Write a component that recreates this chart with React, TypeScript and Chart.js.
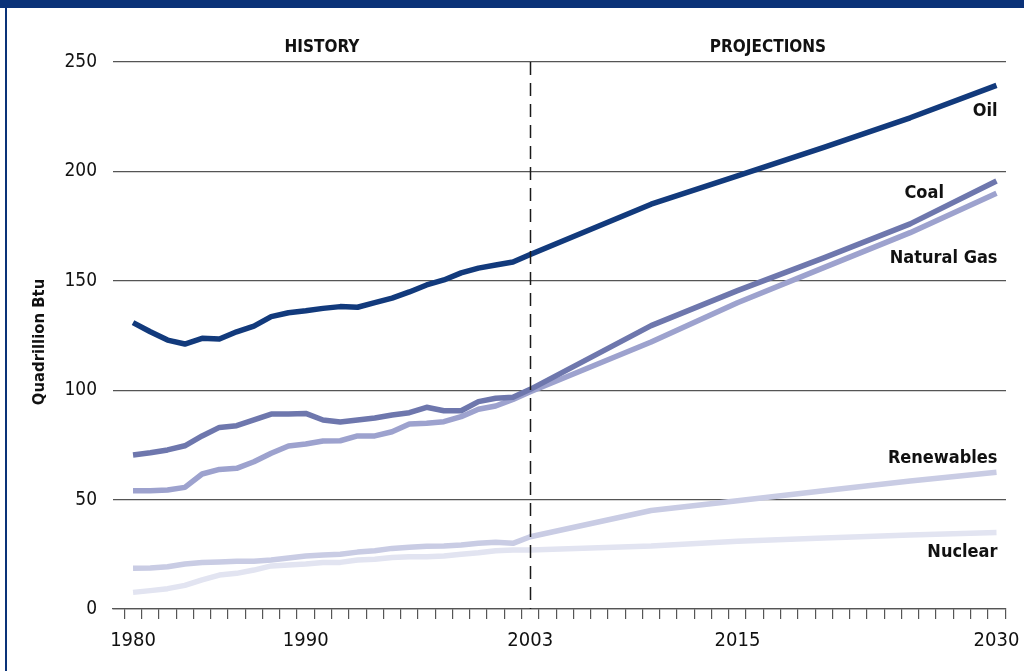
import React, { useEffect, useRef } from "react";
import { Chart, registerables } from "chart.js";

Chart.register(...registerables);

const histYears = [1980,1981,1982,1983,1984,1985,1986,1987,1988,1989,1990,1991,1992,1993,1994,1995,1996,1997,1998,1999,2000,2001,2002,2003];
const projYears = [2010, 2015, 2020, 2025, 2030];

const oilHist = [130.9,126.7,122.9,121.1,123.7,123.4,126.7,129.3,133.6,135.4,136.3,137.4,138.2,137.9,140.0,142.1,144.9,148.1,150.4,153.6,155.8,157.2,158.6,162.0];
const oilProj = [185, 198, 211, 224.5, 239.3];
const coalHist = [70.4,71.4,72.7,74.6,79.1,83.0,83.8,86.4,89.1,89.1,89.4,86.4,85.5,86.4,87.3,88.7,89.7,92.2,90.6,90.6,94.8,96.3,96.8,100.4];
const coalProj = [129.5, 145.5, 160.5, 176, 195.6];
const gasHist = [54.1,54.1,54.4,55.6,61.7,63.8,64.3,67.3,71.2,74.5,75.4,76.8,76.9,79.1,79.1,81.0,84.6,84.9,85.6,87.9,91.3,92.8,95.8,99.3];
const gasProj = [122, 140, 156, 172, 190];
const renHist = [18.6,18.7,19.3,20.6,21.2,21.5,21.8,21.8,22.4,23.3,24.2,24.7,25.0,26.0,26.6,27.7,28.2,28.7,28.8,29.3,30.0,30.5,30.0,33.0];
const renProj = [45, 49.5, 54, 58.5, 62.5];
const nucHist = [7.6,8.4,9.3,10.8,13.3,15.5,16.3,17.8,19.7,20.1,20.6,21.3,21.3,22.4,22.7,23.5,23.9,23.9,24.2,25.0,25.7,26.6,27.0,27.0];
const nucProj = [28.8, 31, 32.5, 33.8, 35];

const xTickLabels = ["1980", "1990", "2003", "2015", "2030"];
const yTicks = [0, 50, 100, 150, 200, 250];
const seriesNames = ["Oil", "Coal", "Natural Gas", "Renewables", "Nuclear"];
const seriesColors = ["#123a7c", "#6e77ad", "#9da2ce", "#c9cce4", "#e2e4f1"];
const sectionLabels = ["HISTORY", "PROJECTIONS"];
const yAxisTitle = "Quadrillion Btu";
const divideYear = 2003;

const FONT = "'Liberation Sans Narrow', 'DejaVu Sans Condensed', 'Arial Narrow', sans-serif";

function pts(h: number[], p: number[]) {
  return [...histYears.map((y, i) => ({ x: y, y: h[i] })), ...projYears.map((y, i) => ({ x: y, y: p[i] }))];
}

export default function App() {
  const ref = useRef<HTMLCanvasElement | null>(null);
  useEffect(() => {
    if (!ref.current) return;
    const allData = [
      pts(oilHist, oilProj),
      pts(coalHist, coalProj),
      pts(gasHist, gasProj),
      pts(renHist, renProj),
      pts(nucHist, nucProj),
    ];
    // label anchor (year, value) for each series name (right edge, baseline)
    const labelAnchors = [
      { x: 2030, y: 225.5 },
      { x: 2026.9, y: 188 },
      { x: 2030, y: 158 },
      { x: 2030, y: 66.7 },
      { x: 2030, y: 23.7 },
    ];
    const overlay = {
      id: "overlay",
      afterDatasetsDraw(chart: any) {
        const { ctx, chartArea, scales } = chart;
        const xs = scales.x;
        const ys = scales.y;
        ctx.save();
        // dashed divider
        const dx = Math.round(xs.getPixelForValue(divideYear)) + 0.5;
        ctx.strokeStyle = "#1a1a1a";
        ctx.lineWidth = 1.5;
        ctx.setLineDash([13, 8]);
        ctx.beginPath();
        ctx.moveTo(dx, chartArea.top);
        ctx.lineTo(dx, chartArea.bottom);
        ctx.stroke();
        ctx.setLineDash([]);
        // section labels
        ctx.fillStyle = "#111";
        ctx.font = `bold 17px ${FONT}`;
        ctx.textAlign = "center";
        ctx.textBaseline = "alphabetic";
        ctx.fillText(sectionLabels[0], 322, chartArea.top - 10);
        ctx.fillText(sectionLabels[1], 768, chartArea.top - 10);
        // series labels
        ctx.font = `bold 18px ${FONT}`;
        ctx.textAlign = "right";
        seriesNames.forEach((n, i) => {
          const a = labelAnchors[i];
          ctx.fillText(n, xs.getPixelForValue(a.x) + 1, ys.getPixelForValue(a.y));
        });
        // y axis title
        ctx.save();
        ctx.translate(40, 342);
        ctx.rotate(-Math.PI / 2);
        ctx.textAlign = "center";
        ctx.textBaseline = "middle";
        ctx.font = `bold 16.5px ${FONT}`;
        ctx.fillText(yAxisTitle, 0, 0);
        ctx.restore();
        ctx.restore();
      },
    };
    const chart = new Chart(ref.current, {
      type: "line",
      data: {
        datasets: allData.map((d, i) => ({
          label: seriesNames[i],
          data: d,
          borderColor: seriesColors[i],
          backgroundColor: seriesColors[i],
          borderWidth: 5.5,
          pointRadius: 0,
          tension: 0,
          borderJoinStyle: "round",
          fill: false,
        })),
      },
      options: {
        animation: false,
        responsive: false,
        devicePixelRatio: 1,
        layout: { padding: { left: 0, right: 18, top: 62, bottom: 0 } },
        plugins: { legend: { display: false }, tooltip: { enabled: false } },
        scales: {
          x: {
            type: "linear",
            min: 1978.84,
            max: 2030.55,
            afterBuildTicks(axis: any) {
              const t = [];
              for (let y = 1979.5; y <= 2030.5; y += 1) t.push({ value: y });
              axis.ticks = t;
            },
            afterFit(axis: any) {
              axis.height = 62;
            },
            grid: {
              drawOnChartArea: false,
              drawTicks: true,
              tickLength: 10,
              color: "#555",
              lineWidth: 1.2,
            },
            border: { display: true, color: "#555", width: 1.2 },
            ticks: {
              autoSkip: false,
              maxRotation: 0,
              minRotation: 0,
              labelOffset: 8.63,
              padding: 10,
              color: "#111",
              font: { family: FONT, size: 20 },
              callback(v: any) {
                const lbl = String(Math.round(Number(v) + 0.5));
                return xTickLabels.includes(lbl) ? lbl : "";
              },
            },
          },
          y: {
            min: 0,
            max: 250,
            afterBuildTicks(axis: any) {
              axis.ticks = yTicks.map((v) => ({ value: v }));
            },
            afterFit(axis: any) {
              axis.width = 113;
            },
            grid: { color: "#555", lineWidth: 1.2, drawTicks: false },
            border: { display: false },
            ticks: {
              padding: 16,
              color: "#111",
              font: { family: FONT, size: 19 },
            },
          },
        },
      },
      plugins: [overlay],
    } as any);
    return () => chart.destroy();
  }, []);
  return (
    <div style={{ position: "fixed", left: 0, top: 0, width: 1024, height: 671, background: "#fff", overflow: "hidden" }}>
      <canvas ref={ref} width={1024} height={671} style={{ position: "absolute", left: 0, top: 0, width: 1024, height: 671 }} />
      <div style={{ position: "absolute", left: 0, top: 0, width: 1024, height: 8, background: "#0a3278" }} />
      <div style={{ position: "absolute", left: 5, top: 0, width: 2, height: 671, background: "#0a3278" }} />
    </div>
  );
}
